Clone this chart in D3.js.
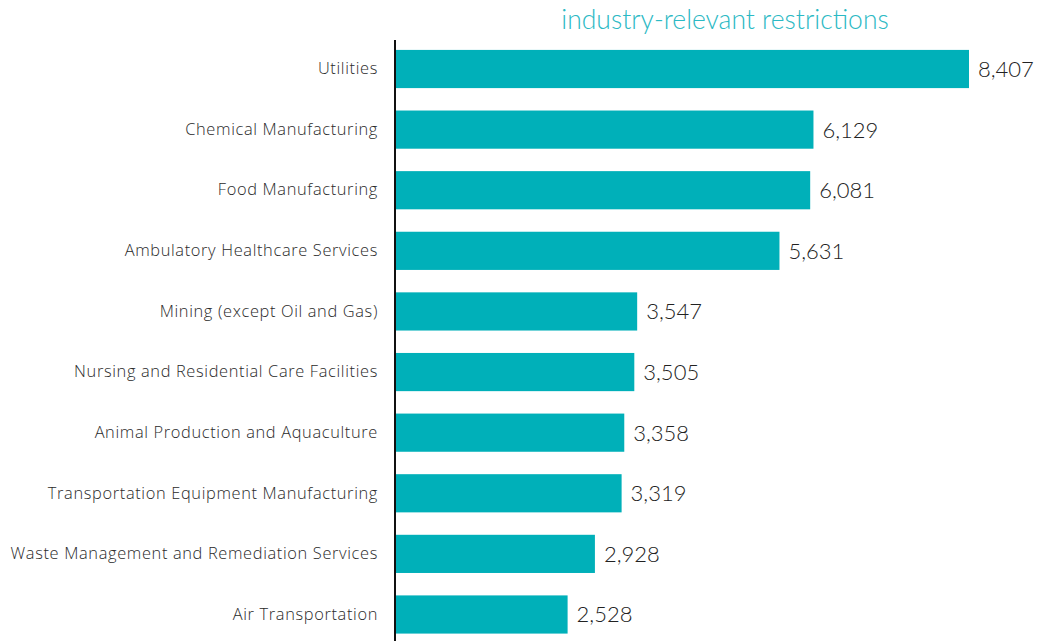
<!DOCTYPE html>
<html lang="en">
<head>
  <meta charset="utf-8" />
  <style>
    body { margin: 0; background: #fff; }
    text { font-family: Lato, "Open Sans", sans-serif; }
    .label { font-family: "Open Sans", sans-serif; font-size: 16.4px; letter-spacing: 0.65px; fill: #2a2a2a; font-weight: 300; }
    .value { font-size: 22px; fill: #222; font-weight: 300; }
    .title { font-size: 26.5px; fill: #2bb9c4; font-weight: 300; }
  </style>
</head>
<body>
<script src="https://d3js.org/d3.v7.min.js"></script>
<script>
var categories = [
  "Utilities",
  "Chemical Manufacturing",
  "Food Manufacturing",
  "Ambulatory Healthcare Services",
  "Mining (except Oil and Gas)",
  "Nursing and Residential Care Facilities",
  "Animal Production and Aquaculture",
  "Transportation Equipment Manufacturing",
  "Waste Management and Remediation Services",
  "Air Transportation"
];
var values = [8407, 6129, 6081, 5631, 3547, 3505, 3358, 3319, 2928, 2528];
var title = "industry-relevant restrictions";

var width = 1037, height = 641;

var svg = d3.select("body").append("svg")
  .attr("width", width)
  .attr("height", height);

var x = d3.scaleLinear()
  .domain([0, 8407])
  .range([395, 969]);

var y = d3.scaleBand()
  .domain(categories)
  .range([38.7, 644.8])
  .paddingInner(0.37)
  .paddingOuter(0.185);

svg.selectAll("rect.bar")
  .data(values)
  .enter()
  .append("rect")
    .attr("class", "bar")
    .attr("x", x(0))
    .attr("y", function(d, i){ return y(categories[i]); })
    .attr("width", function(d){ return x(d) - x(0); })
    .attr("height", y.bandwidth())
    .style("fill", "#00b0b9");

svg.selectAll("text.value")
  .data(values)
  .enter()
  .append("text")
    .attr("class", "value")
    .attr("x", function(d){ return x(d) + 9; })
    .attr("y", function(d, i){ return y(categories[i]) + y.bandwidth() / 2; })
    .attr("dy", "0.36em")
    .text(function(d){ return d3.format(",")(d); });

var axis = svg.append("g")
  .attr("transform", "translate(" + x(0) + ",0)")
  .call(d3.axisLeft(y).tickSize(0).tickPadding(17));

axis.select(".domain")
  .attr("d", "M0,40V641")
  .style("stroke", "#111")
  .style("stroke-width", 2);

axis.selectAll(".tick text")
  .attr("class", "label")
  .attr("font-family", null)
  .attr("font-size", null)
  .attr("fill", null);

svg.append("text")
  .attr("class", "title")
  .attr("x", 725)
  .attr("y", 29)
  .attr("text-anchor", "middle")
  .text(title);
</script>
</body>
</html>
